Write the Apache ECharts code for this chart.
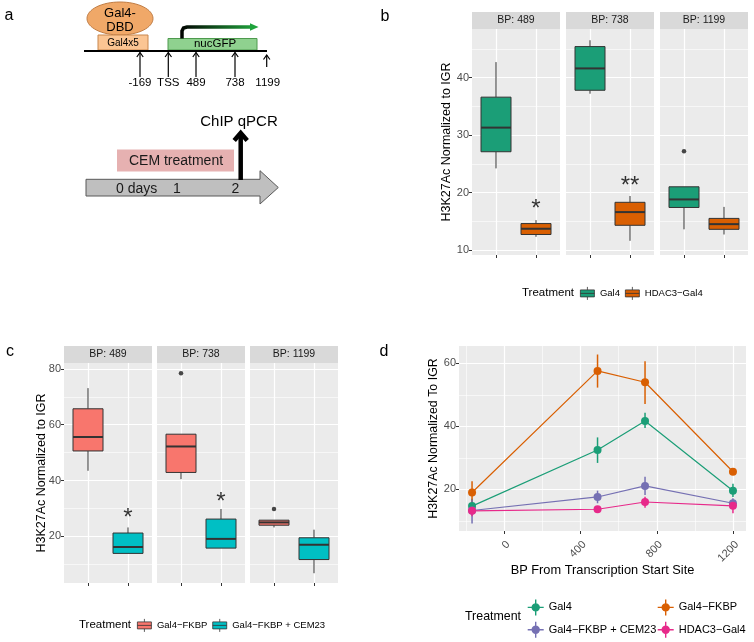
<!DOCTYPE html>
<html>
<head>
<meta charset="utf-8">
<script src="https://cdn.jsdelivr.net/npm/echarts@6.0.0/dist/echarts.min.js"></script>
<style>
html, body { margin: 0; padding: 0; background: #fff; }
#chart { width: 754px; height: 642px; }
</style>
</head>
<body>
<div id="chart"></div>
<script>
const FONT = '"Liberation Sans", Arial, sans-serif';

// facets shared by panels b and c
const facets = ['BP: 489', 'BP: 738', 'BP: 1199'];

// panel b: [lower whisker, Q1, median, Q3, upper whisker] per facet
const bGal4 = [[24.2, 27.1, 31.3, 36.6, 42.7], [37.2, 37.8, 41.6, 45.4, 46.5], [13.6, 17.4, 18.8, 21.0, 21.0]];
const bHdac3 = [[12.3, 12.7, 13.7, 14.6, 15.2], [11.6, 14.3, 16.6, 18.3, 19.4], [12.7, 13.6, 14.5, 15.5, 17.5]];
const bOutliers = [[2, 1, 27.2]];            // facet, box, value
const bStars = [[0, 2, 18.0, '*'], [1, 2, 22.0, '**']];
const bTicks = [10, 20, 30, 40];
const bMinor = [15, 25, 35, 45];

// panel c
const cFkbp = [[43.5, 50.6, 55.6, 65.7, 73.1], [40.5, 42.9, 52.2, 56.6, 56.6], [23.2, 24.0, 25.0, 25.8, 25.8]];
const cCem = [[13.9, 13.9, 16.2, 21.2, 23.2], [15.8, 15.8, 19.1, 26.2, 29.8], [6.8, 11.7, 17.0, 19.5, 22.4]];
const cOutliers = [[1, 1, 78.4], [2, 1, 29.8]];
const cStars = [[0, 2, 28.4, '*'], [1, 2, 34.0, '*']];
const cTicks = [20, 40, 60, 80];
const cMinor = [10, 30, 50, 70];

// panel d: mean and [low, high] per site
const dSites = [-169, 489, 738, 1199];
const dGal4 = [14.7, 32.5, 41.7, 19.6];
const dGal4Err = [[12.5, 17.0], [28.4, 36.5], [39.5, 44.3], [17.6, 21.8]];
const dFkbp = [19.0, 57.6, 54.0, 25.6];
const dFkbpErr = [[15.6, 22.6], [52.3, 62.8], [47.1, 60.7], [24.8, 26.4]];
const dCem = [13.3, 17.6, 21.1, 15.6];
const dCemErr = [[9.2, 16.8], [15.6, 19.6], [18.2, 24.0], [14.0, 17.2]];
const dHdac = [13.2, 13.7, 16.0, 14.8];
const dHdacErr = [[11.5, 15.0], [12.9, 14.5], [14.2, 17.7], [12.4, 16.6]];
const dXTicks = [0, 400, 800, 1200];
const dXMinor = [-200, 200, 600, 1000];
const dYTicks = [20, 40, 60];
const dYMinor = [10, 30, 50];

const grids = [];
const xAxes = [];
const yAxes = [];
const series = [];
const graphics = [];

const white = (w) => ({ show: true, lineStyle: { color: '#fff', width: w } });
const tickStyle = { color: '#333', width: 1 };
const noLine = { show: false, onZero: false };

function minorLines(vals) {
  return {
    silent: true, symbol: 'none', z: 1, animation: false,
    label: { show: false },
    lineStyle: { color: '#fff', width: 0.6, type: 'solid' },
    data: vals
  };
}

function renderBox(params, api) {
  const x = api.value(0);
  const lo = api.coord([x, api.value(1)]);
  const q1 = api.coord([x, api.value(2)]);
  const med = api.coord([x, api.value(3)]);
  const q3 = api.coord([x, api.value(4)]);
  const hi = api.coord([x, api.value(5)]);
  const w = api.size([0.75, 0])[0];
  const edge = { stroke: '#333', lineWidth: 1 };
  return {
    type: 'group',
    children: [
      { type: 'line', shape: { x1: lo[0], y1: lo[1], x2: q1[0], y2: q1[1] }, style: edge },
      { type: 'line', shape: { x1: q3[0], y1: q3[1], x2: hi[0], y2: hi[1] }, style: edge },
      { type: 'rect', shape: { x: q1[0] - w / 2, y: q3[1], width: w, height: q1[1] - q3[1] },
        style: { fill: api.visual('color'), stroke: '#333', lineWidth: 1 } },
      { type: 'line', shape: { x1: med[0] - w / 2, y1: med[1], x2: med[0] + w / 2, y2: med[1] },
        style: { stroke: '#333', lineWidth: 2 } }
    ]
  };
}

function renderErr(params, api) {
  const a = api.coord([api.value(0), api.value(1)]);
  const b = api.coord([api.value(0), api.value(2)]);
  return { type: 'line', shape: { x1: a[0], y1: a[1], x2: b[0], y2: b[1] },
    style: { stroke: api.visual('color'), lineWidth: 1.5 } };
}

function facetPanel(cfg) {
  cfg.lefts.forEach((left, f) => {
    const gi = grids.length;
    grids.push({ left, top: cfg.top, width: cfg.width, height: cfg.height,
      show: true, backgroundColor: '#EBEBEB', borderWidth: 0 });
    xAxes.push({ gridIndex: gi, type: 'value', min: 0.4, max: 2.6,
      axisLine: noLine,
      axisTick: { show: true, customValues: [1, 2], length: 3, lineStyle: tickStyle },
      axisLabel: { show: false, customValues: [1, 2] },
      splitLine: white(1.2) });
    yAxes.push({ gridIndex: gi, type: 'value', min: cfg.yMin, max: cfg.yMax,
      axisLine: noLine,
      axisTick: { show: f === 0, customValues: cfg.ticks, length: 3, lineStyle: tickStyle },
      axisLabel: { show: f === 0, customValues: cfg.ticks, color: '#4D4D4D', fontSize: 11, fontFamily: FONT, margin: 3 },
      splitLine: white(1.2),
      name: f === 0 ? 'H3K27Ac Normalized to IGR' : '',
      nameLocation: 'middle', nameGap: cfg.nameGap, nameMoveOverlap: false,
      nameTextStyle: { color: '#000', fontSize: 12.5, fontFamily: FONT } });
    cfg.groups.forEach((g, k) => {
      series.push({ type: 'custom', name: g.name, xAxisIndex: gi, yAxisIndex: gi,
        itemStyle: { color: g.color }, renderItem: renderBox,
        data: [[k + 1].concat(g.data[f])],
        markLine: k === 0 ? minorLines(cfg.minor.map(v => ({ yAxis: v }))) : undefined });
    });
    const outs = cfg.outliers.filter(o => o[0] === f);
    if (outs.length) {
      series.push({ type: 'scatter', xAxisIndex: gi, yAxisIndex: gi, symbolSize: 4.5,
        itemStyle: { color: '#1A1A1A' }, silent: true, z: 3,
        data: outs.map(o => [o[1], o[2]]) });
    }
    const stars = cfg.stars.filter(s => s[0] === f);
    if (stars.length) {
      series.push({ type: 'scatter', xAxisIndex: gi, yAxisIndex: gi, symbolSize: 0, silent: true, z: 3,
        label: { show: true, position: 'inside', formatter: '{b}', color: '#000', fontSize: 24,
          fontFamily: FONT, offset: [0, 5] },
        data: stars.map(s => ({ name: s[3], value: [s[1], s[2]] })) });
    }
    graphics.push({ type: 'rect', shape: { x: left, y: cfg.top - 17, width: cfg.width, height: 17 },
      style: { fill: '#D9D9D9' } });
    graphics.push({ type: 'text', x: left + cfg.width / 2, y: cfg.top - 8.5,
      style: { text: facets[f], fill: '#1A1A1A', font: '10.5px ' + FONT, align: 'center', verticalAlign: 'middle' } });
  });
}

facetPanel({ lefts: [472, 566, 660], top: 29, width: 88, height: 226, yMin: 9.13, yMax: 48.46,
  ticks: bTicks, minor: bMinor, nameGap: 19,
  groups: [{ name: 'b|Gal4', color: '#1B9E77', data: bGal4 }, { name: 'b|HDAC3\u2212Gal4', color: '#D95F02', data: bHdac3 }],
  outliers: bOutliers, stars: bStars });

facetPanel({ lefts: [64, 157, 250], top: 363, width: 88, height: 220, yMin: 3.3, yMax: 82.1,
  ticks: cTicks, minor: cMinor, nameGap: 16,
  groups: [{ name: 'c|Gal4\u2212FKBP', color: '#F8766D', data: cFkbp }, { name: 'c|Gal4\u2212FKBP + CEM23', color: '#00BFC4', data: cCem }],
  outliers: cOutliers, stars: cStars });

// panel d
const dg = grids.length;
grids.push({ left: 459, top: 346, width: 287, height: 185, show: true, backgroundColor: '#EBEBEB', borderWidth: 0 });
xAxes.push({ gridIndex: dg, type: 'value', min: -237.4, max: 1267.4,
  axisLine: noLine,
  axisTick: { customValues: dXTicks, length: 3, lineStyle: tickStyle },
  axisLabel: { customValues: dXTicks, rotate: 45, color: '#4D4D4D', fontSize: 11, fontFamily: FONT, margin: 8,
    verticalAlign: 'top', formatter: v => String(v) },
  splitLine: white(1.2),
  name: 'BP From Transcription Start Site', nameLocation: 'middle', nameGap: 32.6, nameMoveOverlap: false,
  nameTextStyle: { color: '#000', fontSize: 12.8, fontFamily: FONT } });
yAxes.push({ gridIndex: dg, type: 'value', min: 6.8, max: 65.5,
  axisLine: noLine,
  axisTick: { customValues: dYTicks, length: 3, lineStyle: tickStyle },
  axisLabel: { customValues: dYTicks, color: '#4D4D4D', fontSize: 11, fontFamily: FONT, margin: 3 },
  splitLine: white(1.2),
  name: 'H3K27Ac Normalized To IGR', nameLocation: 'middle', nameGap: 19, nameMoveOverlap: false,
  nameTextStyle: { color: '#000', fontSize: 12.4, fontFamily: FONT } });

const dGroups = [
  { name: 'd|Gal4', color: '#1B9E77', vals: dGal4, err: dGal4Err },
  { name: 'd|Gal4\u2212FKBP', color: '#D95F02', vals: dFkbp, err: dFkbpErr },
  { name: 'd|Gal4\u2212FKBP + CEM23', color: '#7570B3', vals: dCem, err: dCemErr },
  { name: 'd|HDAC3\u2212Gal4', color: '#E7298A', vals: dHdac, err: dHdacErr }
];
series.push({ type: 'line', xAxisIndex: dg, yAxisIndex: dg, data: [], silent: true,
  markLine: minorLines(dXMinor.map(v => ({ xAxis: v })).concat(dYMinor.map(v => ({ yAxis: v })))) });
dGroups.forEach(g => {
  series.push({ type: 'custom', name: g.name, xAxisIndex: dg, yAxisIndex: dg, renderItem: renderErr,
    itemStyle: { color: g.color }, data: dSites.map((x, i) => [x, g.err[i][0], g.err[i][1]]) });
  series.push({ type: 'line', name: g.name, xAxisIndex: dg, yAxisIndex: dg, symbol: 'circle', symbolSize: 8,
    itemStyle: { color: g.color }, lineStyle: { color: g.color, width: 1.2 },
    data: dSites.map((x, i) => [x, g.vals[i]]) });
});

// legends
const boxIcon = 'path://M1,3H15V10H1Z M1,6.5H15 M8,0V3 M8,10V13';
const crossIcon = 'path://M0,8H16 M8,0V16 M11.5,8A3.5,3.5 0 1 1 4.5,8A3.5,3.5 0 1 1 11.5,8Z';
const legendText = { color: '#000', fontSize: 9.5, fontFamily: FONT };
const strip = name => name.split('|')[1];
const dItem = g => ({ name: g.name, icon: crossIcon,
  itemStyle: { color: g.color, borderColor: g.color, borderWidth: 1.4 } });
const legends = [
  { data: ['b|Gal4', 'b|HDAC3\u2212Gal4'], left: 580, top: 286.5, itemGap: 5, itemWidth: 15, itemHeight: 13,
    icon: boxIcon, itemStyle: { borderColor: '#333', borderWidth: 0.8 }, textStyle: legendText, formatter: strip },
  { data: ['c|Gal4\u2212FKBP', 'c|Gal4\u2212FKBP + CEM23'], left: 137, top: 618.5, itemGap: 5, itemWidth: 15, itemHeight: 13,
    icon: boxIcon, itemStyle: { borderColor: '#333', borderWidth: 0.8 }, textStyle: legendText, formatter: strip },
  { data: [dItem(dGroups[0]), dItem(dGroups[2])], left: 527, top: 598.7, orient: 'vertical', itemGap: 5,
    itemWidth: 16, itemHeight: 16, textStyle: Object.assign({}, legendText, { fontSize: 11 }), formatter: strip },
  { data: [dItem(dGroups[1]), dItem(dGroups[3])], left: 657, top: 598.7, orient: 'vertical', itemGap: 5,
    itemWidth: 16, itemHeight: 16, textStyle: Object.assign({}, legendText, { fontSize: 11 }), formatter: strip }
].map(l => Object.assign({ padding: 0, selectedMode: false }, l));

const txt = (x, y, text, size, extra) => ({ type: 'text', x, y,
  style: Object.assign({ text, fill: '#000', font: size + 'px ' + FONT, align: 'center', verticalAlign: 'middle' }, extra || {}) });

graphics.push(txt(522, 293, 'Treatment', 11.5, { align: 'left' }));
graphics.push(txt(79, 625, 'Treatment', 11.5, { align: 'left' }));
graphics.push(txt(465, 617, 'Treatment', 12.4, { align: 'left' }));

// panel letters
graphics.push(txt(9, 16, 'a', 16));
graphics.push(txt(385, 17, 'b', 16));
graphics.push(txt(10, 352, 'c', 16));
graphics.push(txt(384, 352, 'd', 16));

// panel a: construct diagram
const sites = [[140, '-169', 77], [168.3, 'TSS', 77], [196, '489', 77], [235, '738', 77], [266.7, '1199', 67]];
graphics.push({ type: 'ellipse', shape: { cx: 120, cy: 18.5, rx: 33, ry: 16.5 },
  style: { fill: '#F0A868', stroke: '#C07D45', lineWidth: 1 } });
graphics.push(txt(120, 13, 'Gal4-', 13));
graphics.push(txt(120, 27, 'DBD', 13));
graphics.push({ type: 'rect', shape: { x: 98, y: 35, width: 50, height: 15 },
  style: { fill: '#FBC593', stroke: '#C8874F', lineWidth: 1 } });
graphics.push(txt(123, 43, 'Gal4x5', 10));
graphics.push({ type: 'rect', shape: { x: 168, y: 38.5, width: 89, height: 11.5 },
  style: { fill: '#8FD18F', stroke: '#4E9A4E', lineWidth: 1 } });
graphics.push(txt(215, 44, 'nucGFP', 11.5));
graphics.push({ type: 'line', shape: { x1: 84, y1: 51, x2: 267, y2: 51 }, style: { stroke: '#000', lineWidth: 2 } });
graphics.push({ type: 'polyline', shape: { points: [[182, 38.5], [182, 31], [183.5, 28], [187, 27], [252, 27]] },
  style: { fill: null, lineWidth: 3.5, stroke: { type: 'linear', x: 0, y: 0, x2: 1, y2: 0,
    colorStops: [{ offset: 0, color: '#000' }, { offset: 0.35, color: '#0C3A14' }, { offset: 1, color: '#1FA33C' }] } } });
graphics.push({ type: 'polygon', shape: { points: [[250, 23.2], [258.5, 27], [250, 30.8]] }, style: { fill: '#1FA33C' } });
sites.forEach(([x, label, bottom]) => {
  const top = bottom === 77 ? 52.5 : 55;
  graphics.push({ type: 'line', shape: { x1: x, y1: top, x2: x, y2: bottom }, style: { stroke: '#000', lineWidth: 1.2 } });
  graphics.push({ type: 'polyline', shape: { points: [[x - 3.2, top + 4.5], [x, top], [x + 3.2, top + 4.5]] },
    style: { fill: null, stroke: '#000', lineWidth: 1.2 } });
  graphics.push(txt(x + (label === '1199' ? 1 : 0), 83, label, 11.5));
});

// panel a: time line
graphics.push({ type: 'rect', shape: { x: 117, y: 149.5, width: 117, height: 22 }, style: { fill: '#E6B1B1' } });
graphics.push(txt(176, 161, 'CEM treatment', 14, { fill: '#1A1A1A' }));
graphics.push({ type: 'polygon', shape: { points: [[86, 179.3], [260, 179.3], [260, 170.7], [278.3, 187.5], [260, 204], [260, 196], [86, 196]] },
  style: { fill: '#BFBFBF', stroke: '#595959', lineWidth: 1 } });
graphics.push(txt(136.7, 189, '0 days', 14, { fill: '#1A1A1A' }));
graphics.push(txt(177, 189, '1', 14, { fill: '#1A1A1A' }));
graphics.push(txt(235.3, 189, '2', 14, { fill: '#1A1A1A' }));
graphics.push({ type: 'line', shape: { x1: 240.7, y1: 180, x2: 240.7, y2: 133 }, style: { stroke: '#000', lineWidth: 4.5 } });
graphics.push({ type: 'polyline', shape: { points: [[234.2, 140.5], [240.7, 133], [247.2, 140.5]] },
  style: { fill: null, stroke: '#000', lineWidth: 4.5, lineJoin: 'miter' } });
graphics.push(txt(239, 122, 'ChIP qPCR', 15));

const chart = echarts.init(document.getElementById('chart'));
chart.setOption({
  animation: false,
  backgroundColor: '#fff',
  textStyle: { fontFamily: FONT },
  grid: grids,
  xAxis: xAxes,
  yAxis: yAxes,
  legend: legends,
  series: series,
  graphic: { elements: graphics }
});
</script>
</body>
</html>
